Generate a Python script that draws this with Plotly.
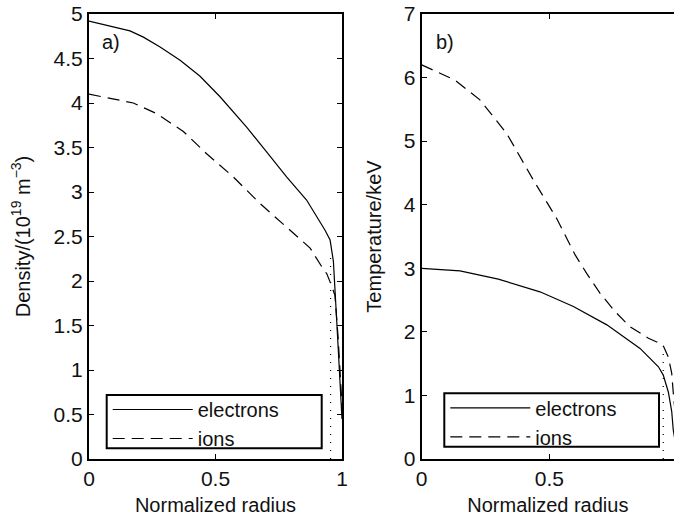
import plotly.graph_objects as go

# ---- profile data -------------------------------------------------------
# (a) density, 10^19 m^-3
r_ne = [0.0, 0.162, 0.215, 0.281, 0.36, 0.439, 0.518, 0.623, 0.702, 0.781,
        0.86, 0.933, 0.953, 0.966, 0.979, 0.99, 1.0]
n_e = [4.92, 4.81, 4.74, 4.63, 4.48, 4.30, 4.07, 3.73, 3.45, 3.17,
       2.91, 2.57, 2.46, 2.22, 1.56, 1.0, 0.45]

r_ni = [0.0, 0.175, 0.268, 0.373, 0.465, 0.57, 0.676, 0.781, 0.874, 0.92,
        0.94, 0.957, 0.972, 0.985, 1.0]
n_i = [4.10, 4.00, 3.88, 3.68, 3.43, 3.17, 2.87, 2.61, 2.37, 2.16,
       2.08, 1.96, 1.84, 1.35, 0.6]

# (b) temperature, keV
r_te = [0.0, 0.15, 0.3, 0.463, 0.594, 0.725, 0.855, 0.927, 0.946, 0.966,
        0.979, 0.985, 1.0]
t_e = [3.0, 2.96, 2.83, 2.63, 2.40, 2.11, 1.74, 1.45, 1.32, 1.05,
       0.75, 0.46, 0.1]

r_ti = [0.0, 0.13, 0.228, 0.333, 0.437, 0.529, 0.601, 0.646, 0.698, 0.757,
        0.816, 0.855, 0.888, 0.927, 0.946, 0.966, 0.979, 0.985, 1.0]
t_i = [6.2, 5.96, 5.65, 5.12, 4.39, 3.78, 3.21, 2.92, 2.61, 2.32,
       2.08, 1.98, 1.90, 1.83, 1.78, 1.60, 1.35, 1.05, 0.4]

# separatrix markers (position, top of dotted line)
sep_a = ([0.955, 0.955], [0.0, 2.29])
sep_b = ([0.946, 0.946], [0.0, 1.77])

species = ["electrons", "ions"]
x_title = "Normalized radius"
y_title_a = "Density/(10<sup>19</sup> m<sup>−3</sup>)"
y_title_b = "Temperature/keV"
panel_tags = ["a)", "b)"]

FONT = "Liberation Sans"
INK = "#111111"
W, H = 674, 522

# plot area (pixels) shared by both panels
L, R, T, B = 89, 674, 14, 459
PW, PH = R - L, B - T


def px(x):
    return (x - L) / PW


def py(y):
    return (B - y) / PH


fig = go.Figure()

solid = dict(color="black", width=1.2)
dashed = dict(color="black", width=1.2, dash="12px,7px")
dotted = dict(color="black", width=1.2, dash="1px,7px")

fig.add_trace(go.Scatter(x=r_ne, y=n_e, mode="lines", line=solid,
                         name=species[0], legend="legend", xaxis="x", yaxis="y"))
fig.add_trace(go.Scatter(x=r_ni, y=n_i, mode="lines", line=dashed,
                         name=species[1], legend="legend", xaxis="x", yaxis="y"))
fig.add_trace(go.Scatter(x=sep_a[0], y=sep_a[1], mode="lines", line=dotted,
                         showlegend=False, xaxis="x", yaxis="y"))

fig.add_trace(go.Scatter(x=r_te, y=t_e, mode="lines", line=solid,
                         name=species[0], legend="legend2", xaxis="x2", yaxis="y2"))
fig.add_trace(go.Scatter(x=r_ti, y=t_i, mode="lines", line=dashed,
                         name=species[1], legend="legend2", xaxis="x2", yaxis="y2"))
fig.add_trace(go.Scatter(x=sep_b[0], y=sep_b[1], mode="lines", line=dotted,
                         showlegend=False, xaxis="x2", yaxis="y2"))

common = dict(
    showline=True, linecolor="black", linewidth=2,
    ticks="inside", ticklen=5, tickwidth=1, tickcolor="black",
    showgrid=False, zeroline=False, automargin=False,
    tickfont=dict(family=FONT, size=21, color=INK),
)

# legend frames (pixel boxes: left, top, right, bottom)
leg_a = (106.7, 395.0, 321.7, 448.3)
leg_b = (444.3, 393.3, 659.0, 446.7)


def frame(box):
    x0, y0, x1, y1 = box
    return dict(type="rect", xref="paper", yref="paper",
                x0=px(x0), x1=px(x1), y0=py(y1), y1=py(y0),
                line=dict(color="black", width=2),
                fillcolor="rgba(0,0,0,0)", layer="above")


def legend_at(box):
    return dict(x=px(box[0] + 1), y=py(box[1] - 5),
                xanchor="left", yanchor="top",
                bgcolor="rgba(0,0,0,0)", borderwidth=0,
                font=dict(family=FONT, size=20, color=INK),
                itemwidth=80, tracegroupgap=0)


fig.update_layout(
    template="none",
    width=W, height=H,
    margin=dict(l=L, r=W - R, t=T, b=H - B, pad=0),
    paper_bgcolor="white", plot_bgcolor="white",
    font=dict(family=FONT, size=20, color=INK),
    xaxis=dict(domain=[0, px(342)], range=[0, 1],
               tickvals=[0, 0.5, 1], mirror="ticks", anchor="y",
               ticklabelstandoff=0,
               title=dict(text=x_title, font=dict(size=20), standoff=9),
               **common),
    yaxis=dict(domain=[0, 1], range=[0, 5], dtick=0.5, mirror="ticks",
               anchor="x", ticklabelstandoff=0,
               title=dict(text=y_title_a, font=dict(size=20), standoff=18),
               **common),
    xaxis2=dict(domain=[px(421.7), 1.0], range=[0, 0.988],
                tickvals=[0, 0.5, 1], mirror="ticks", anchor="y2",
                ticklabelstandoff=0,
                title=dict(text=x_title, font=dict(size=20), standoff=9),
                **common),
    yaxis2=dict(domain=[0, 1], range=[0, 7], dtick=1, mirror=False,
                anchor="x2", ticklabelstandoff=0,
                title=dict(text=y_title_b, font=dict(size=20), standoff=17),
                **common),
    legend=legend_at(leg_a),
    legend2=legend_at(leg_b),
    shapes=[frame(leg_a), frame(leg_b)],
    annotations=[
        dict(text=panel_tags[0], xref="x domain", yref="y domain",
             x=0.087, y=0.937, xanchor="center", yanchor="middle",
             showarrow=False, font=dict(family=FONT, size=20, color=INK)),
        dict(text=panel_tags[1], xref="x2 domain", yref="y2 domain",
             x=0.092, y=0.937, xanchor="center", yanchor="middle",
             showarrow=False, font=dict(family=FONT, size=20, color=INK)),
    ],
)

fig.write_html("out.html")
